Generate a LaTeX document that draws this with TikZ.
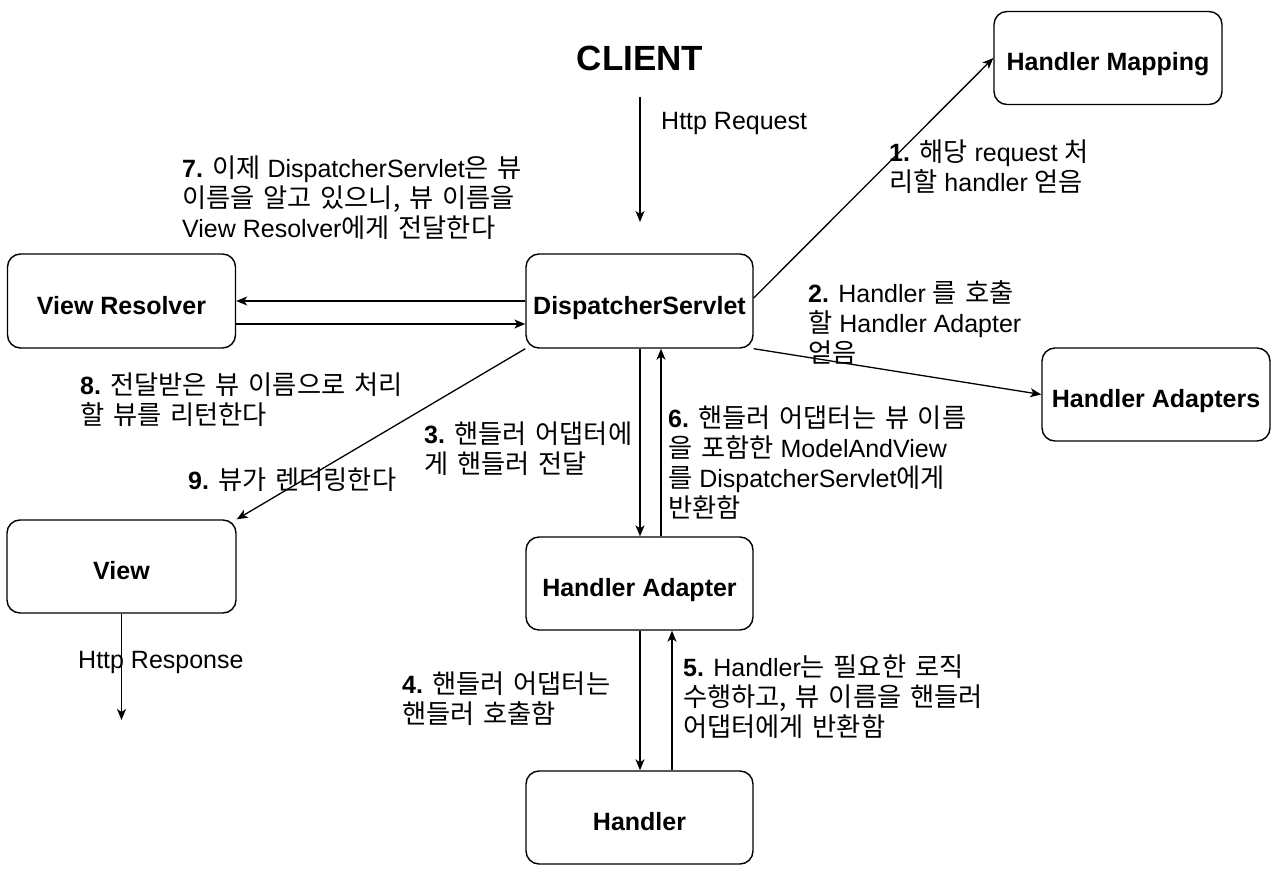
\documentclass[tikz,border=0pt]{standalone}
\usepackage{fontspec}
\setmainfont{Liberation Sans}
\newfontfamily\krfont[Scale=1.05,WordSpace=1.5]{Noto Sans CJK KR}
\newcommand\kt[1]{{\krfont #1}}
\usetikzlibrary{arrows.meta}
\begin{document}
\begin{tikzpicture}[x=1pt,y=-1pt,
  box/.style={draw,line width=1.4pt,rounded corners=13pt,minimum width=228pt,minimum height=93pt,
    font=\fontsize{25}{30}\selectfont\bfseries,inner sep=0pt,text height=26pt,text depth=0pt},
  lbl/.style={anchor=base west,align=left,inner sep=0pt,font=\fontsize{25}{30}\selectfont},
  conn/.style={line width=1.3pt,-{Stealth[length=11pt,width=9pt,inset=3pt]}}]
\useasboundingbox (0,0) rectangle (1280,880);
\fill[white] (0,0) rectangle (1280,880);

\node[font=\fontsize{35}{40}\selectfont\bfseries] (client) at (640,58) {CLIENT};
\node[box] (hm) at (1108,58) {Handler Mapping};
\node[box,minimum height=94pt] (vr) at (121.5,301) {View Resolver};
\node[box,minimum width=227pt,minimum height=94pt] (ds) at (639.5,301) {DispatcherServlet};
\node[box] (has) at (1156,394.5) {Handler Adapters};
\node[box,minimum width=229pt] (view) at (121.5,566.5) {View};
\node[box,minimum width=227pt] (ha) at (639.5,583.5) {Handler Adapter};
\node[box,minimum width=227pt] (h) at (639.5,817.5) {Handler};

\coordinate (cin) at (640,97);
\coordinate (cout) at (640,222);
\coordinate (resp) at (121.5,720);

\draw[conn] (cin) -- (cout);
\draw[conn] ([yshift=3pt]ds.east) -- (hm.west);
\draw[conn] (ds.south east) -- (has.west);
\draw[conn] (ds.west) -- (vr.east);
\draw[conn] ([yshift=-23pt]vr.east) -- ([yshift=-23pt]ds.west);
\draw[conn] (ds.south west) -- (view.north east);
\draw[conn] ([xshift=0.5pt]ds.south) -- ([xshift=0.5pt]ha.north);
\draw[conn] ([xshift=21.5pt]ha.north) -- ([xshift=21.5pt]ds.south);
\draw[conn] ([xshift=0.5pt]ha.south) -- ([xshift=0.5pt]h.north);
\draw[conn] ([xshift=32.5pt]h.north) -- ([xshift=32.5pt]ha.south);
\draw[conn] (view.south) -- (resp);

% labels anchored at the baseline of their last line
\node[lbl] (lreq) at (661,130) {Http Request};
\node[lbl] (l1) at (889,191) {\textbf{1.} \kt{해당} request \kt{처}\\\kt{리할} handler \kt{얻음}};
\node[lbl] (l2) at (808,362) {\textbf{2.} Handler \kt{를 호출}\\\kt{할} Handler Adapter\\\kt{얻음}};
\node[lbl] (l7) at (182,237) {\textbf{7.} \kt{이제} DispatcherServlet\kt{은 뷰}\\\kt{이름을 알고 있으니, 뷰 이름을}\\View Resolver\kt{에게 전달한다}};
\node[lbl] (l8) at (80,424) {\textbf{8.} \kt{전달받은 뷰 이름으로 처리}\\\kt{할 뷰를 리턴한다}};
\node[lbl] (l9) at (188,489) {\textbf{9.} \kt{뷰가 렌더링한다}};
\node[lbl] (l3) at (424,473) {\textbf{3.} \kt{핸들러 어댑터에}\\\kt{게 핸들러 전달}};
\node[lbl] (l6) at (668,517) {\textbf{6.} \kt{핸들러 어댑터는 뷰 이름}\\\kt{을 포함한} ModelAndView\\\kt{를} DispatcherServlet\kt{에게}\\\kt{반환함}};
\node[lbl] (l4) at (402,723) {\textbf{4.} \kt{핸들러 어댑터는}\\\kt{핸들러 호출함}};
\node[lbl] (l5) at (683,736) {\textbf{5.} Handler\kt{는 필요한 로직}\\\kt{수행하고, 뷰 이름을 핸들러}\\\kt{어댑터에게 반환함}};
\node[lbl] (lresp) at (78,668) {Http Response};
\end{tikzpicture}
\end{document}
